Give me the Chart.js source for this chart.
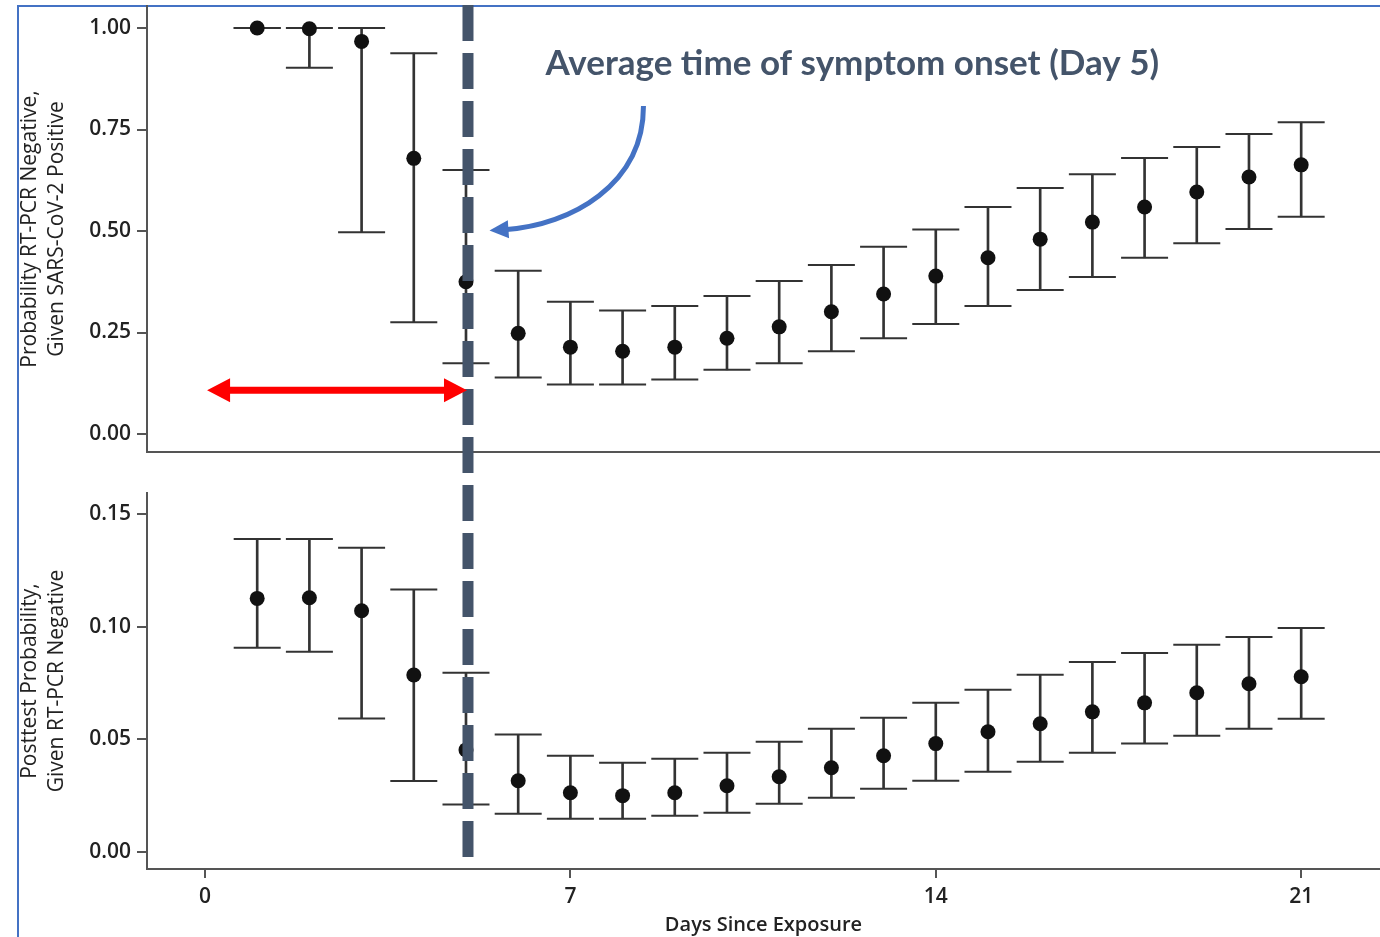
<!DOCTYPE html>
<html>
<head>
<meta charset="utf-8">
<script src="https://cdn.jsdelivr.net/npm/chart.js@4.4.1/dist/chart.umd.min.js"></script>
<style>
  html, body { margin: 0; padding: 0; background: #fff; }
  #wrap { position: relative; width: 1380px; height: 937px; overflow: hidden; }
  #frame { position: absolute; left: 17px; top: 5px; right: 0; bottom: 0;
           border-left: 2px solid #4472c4; border-top: 2px solid #4472c4; }
  canvas { position: absolute; left: 0; }
  #chart-top { top: 0; }
  #chart-bottom { top: 472px; }
</style>
</head>
<body>
<div id="wrap">
  <div id="frame"></div>
  <canvas id="chart-top" width="1380" height="472"></canvas>
  <canvas id="chart-bottom" width="1380" height="465"></canvas>
</div>
<script>
// days since exposure
const days = [1, 2, 3, 4, 5, 6, 7, 8, 9, 10, 11, 12, 13, 14, 15, 16, 17, 18, 19, 20, 21];

// top panel: probability RT-PCR negative given SARS-CoV-2 positive
const negMean = [1.00, 0.998, 0.967, 0.679, 0.375, 0.248, 0.214, 0.204, 0.214, 0.236, 0.264, 0.301, 0.345, 0.389, 0.434, 0.480, 0.522, 0.559, 0.596, 0.633, 0.663];
const negLow  = [1.00, 0.902, 0.497, 0.275, 0.174, 0.139, 0.122, 0.122, 0.134, 0.158, 0.174, 0.204, 0.236, 0.271, 0.315, 0.355, 0.387, 0.434, 0.470, 0.505, 0.535];
const negHigh = [1.00, 1.00, 1.00, 0.938, 0.650, 0.402, 0.326, 0.304, 0.315, 0.340, 0.377, 0.416, 0.461, 0.504, 0.559, 0.606, 0.640, 0.680, 0.707, 0.739, 0.768];

// bottom panel: posttest probability given RT-PCR negative
const postMean = [0.1125, 0.1128, 0.107, 0.0785, 0.0452, 0.0315, 0.0262, 0.0249, 0.0262, 0.0293, 0.0333, 0.0373, 0.0426, 0.0480, 0.0533, 0.0568, 0.0621, 0.0661, 0.0706, 0.0746, 0.0777];
const postLow  = [0.0906, 0.0888, 0.0592, 0.0314, 0.0210, 0.0169, 0.0146, 0.0146, 0.0160, 0.0173, 0.0213, 0.0240, 0.0280, 0.0315, 0.0355, 0.0400, 0.0439, 0.0480, 0.0515, 0.0546, 0.0590];
const postHigh = [0.1389, 0.1389, 0.1350, 0.1165, 0.0795, 0.0520, 0.0426, 0.0395, 0.0413, 0.0439, 0.0488, 0.0546, 0.0595, 0.0661, 0.0719, 0.0786, 0.0843, 0.0883, 0.0919, 0.0954, 0.0994];

const xTicks = [0, 7, 14, 21];
const negTicks = [0, 0.25, 0.5, 0.75, 1];
const postTicks = [0, 0.05, 0.10, 0.15];

const onsetDay = 5;
const onsetLabel = "Average time of symptom onset (Day 5)";

const FONT = "'Open Sans', 'DejaVu Sans', sans-serif";
const AXIS = '#555';
const INK = '#333';

function makeDatasets(mean, low, high) {
  return [
    {
      type: 'scatter',
      data: days.map((d, i) => ({ x: d, y: mean[i] })),
      pointRadius: 7.5,
      pointBackgroundColor: '#111',
      pointBorderWidth: 0,
      order: 0,
    },
    {
      type: 'scatter',
      data: days.map((d, i) => ({ x: d, y: low[i] })).concat(days.map((d, i) => ({ x: d, y: high[i] }))),
      pointStyle: 'line',
      pointRadius: 23.5,
      pointBorderColor: INK,
      pointBorderWidth: 2,
      order: 1,
    },
    {
      type: 'bar',
      data: days.map((d, i) => ({ x: d, y: [low[i], high[i]] })),
      backgroundColor: INK,
      barThickness: 2,
      order: 2,
    },
  ];
}

// keep the axes from reserving room for edge labels
function noEdgePadding(axis) {
  axis.paddingTop = 0;
  axis.paddingBottom = 0;
  axis.paddingLeft = 0;
  axis.paddingRight = 0;
}

function xAxis(height, extra) {
  return Object.assign({
    type: 'linear',
    min: -1.111,
    max: 22.51,
    offset: false,
    afterFit: (axis) => { axis.height = height; noEdgePadding(axis); },
    grid: { display: false, offset: false },
    border: { color: AXIS, width: 2 },
  }, extra);
}

function yAxis(min, max, ticks, title) {
  return {
    type: 'linear',
    position: 'left',
    min: min,
    max: max,
    beginAtZero: false,
    afterBuildTicks: (axis) => { axis.ticks = ticks.map((v) => ({ value: v })); },
    afterFit: (axis) => { axis.width = 147; noEdgePadding(axis); },
    ticks: { color: '#222', font: { family: FONT, size: 21, weight: 600 }, padding: 6, callback: (v) => v.toFixed(2) },
    grid: { drawOnChartArea: false, drawTicks: true, tickLength: 10, color: AXIS, lineWidth: 2 },
    border: { color: AXIS, width: 2 },
    title: { display: true, text: title, color: '#222', font: { family: FONT, size: 21, lineHeight: 1.3 }, padding: { top: 16, bottom: 0 } },
  };
}

// dashed onset line, drawn per panel so the dashes line up across the gap
const onsetLine = {
  id: 'onsetLine',
  afterDatasetsDraw(chart, args, opts) {
    const { ctx, chartArea, scales } = chart;
    const lx = scales.x.getPixelForValue(onsetDay) + 2;
    ctx.save();
    ctx.strokeStyle = '#44546a';
    ctx.lineWidth = 11;
    ctx.setLineDash([36, 12]);
    ctx.lineDashOffset = opts.offset;
    ctx.beginPath();
    ctx.moveTo(lx, opts.top === 'area' ? chartArea.top - 1 : 0);
    ctx.lineTo(lx, opts.bottom === 'canvas' ? chart.height : chartArea.bottom - 12);
    ctx.stroke();
    ctx.restore();
  },
};

// red window arrow, blue curved arrow and label on the top panel
const topNotes = {
  id: 'topNotes',
  afterDraw(chart) {
    const { ctx, scales: { x, y } } = chart;
    const px = (d) => x.getPixelForValue(d);
    const py = (v) => y.getPixelForValue(v);
    ctx.save();

    // red double arrow from exposure to onset
    const ry = py(0.108), rx1 = px(0.04), rx2 = px(onsetDay) + 1;
    ctx.fillStyle = '#ff0000';
    ctx.strokeStyle = '#ff0000';
    ctx.lineWidth = 7;
    ctx.beginPath();
    ctx.moveTo(rx1 + 20, ry);
    ctx.lineTo(rx2 - 20, ry);
    ctx.stroke();
    ctx.beginPath();
    ctx.moveTo(rx1, ry); ctx.lineTo(rx1 + 23, ry - 12); ctx.lineTo(rx1 + 23, ry + 12); ctx.closePath();
    ctx.moveTo(rx2, ry); ctx.lineTo(rx2 - 23, ry - 12); ctx.lineTo(rx2 - 23, ry + 12); ctx.closePath();
    ctx.fill();

    // blue curved pointer
    const p0 = [px(8.4), py(0.808)], p1 = [px(8.4), py(0.613)], p2 = [px(7.0), py(0.515)], p3 = [px(5.78), py(0.504)];
    const tip = [px(5.45), py(0.501)];
    ctx.strokeStyle = '#4472c4';
    ctx.fillStyle = '#4472c4';
    ctx.lineWidth = 5;
    ctx.beginPath();
    ctx.moveTo(p0[0], p0[1]);
    ctx.bezierCurveTo(p1[0], p1[1], p2[0], p2[1], p3[0], p3[1]);
    ctx.stroke();
    const ang = Math.atan2(tip[1] - p3[1], tip[0] - p3[0]);
    const hl = 19, hw = 9;
    ctx.beginPath();
    ctx.moveTo(tip[0], tip[1]);
    ctx.lineTo(tip[0] - hl * Math.cos(ang) + hw * Math.sin(ang), tip[1] - hl * Math.sin(ang) - hw * Math.cos(ang));
    ctx.lineTo(tip[0] - hl * Math.cos(ang) - hw * Math.sin(ang), tip[1] - hl * Math.sin(ang) + hw * Math.cos(ang));
    ctx.closePath();
    ctx.fill();

    // label
    ctx.fillStyle = '#44546a';
    ctx.font = "bold 35px Lato, 'Open Sans', sans-serif";
    ctx.textAlign = 'center';
    ctx.textBaseline = 'middle';
    ctx.fillText(onsetLabel, px(12.4), py(0.911));
    ctx.restore();
  },
};

const common = {
  responsive: false,
  animation: false,
  events: [],
  plugins: { legend: { display: false }, tooltip: { enabled: false } },
};

const chartTop = new Chart(document.getElementById('chart-top'), {
  type: 'scatter',
  data: { datasets: makeDatasets(negMean, negLow, negHigh) },
  plugins: [onsetLine, topNotes],
  options: {
    ...common,
    layout: { autoPadding: false, padding: { top: 6, left: 0, right: 0, bottom: 0 } },
    plugins: { ...common.plugins, onsetLine: { offset: 0, top: 'area', bottom: 'canvas' } },
    scales: {
      x: xAxis(20, { ticks: { display: false } }),
      y: yAxis(-0.0443, 1.0542, negTicks, ['Probability RT-PCR Negative,', 'Given SARS-CoV-2 Positive']),
    },
  },
});

const chartBottom = new Chart(document.getElementById('chart-bottom'), {
  type: 'scatter',
  data: { datasets: makeDatasets(postMean, postLow, postHigh) },
  plugins: [onsetLine],
  options: {
    ...common,
    layout: { autoPadding: false, padding: { top: 21, left: 0, right: 0, bottom: 0 } },
    plugins: { ...common.plugins, onsetLine: { offset: 35, top: 'canvas', bottom: 'area' } },
    scales: {
      x: xAxis(68, {
        afterBuildTicks: (axis) => { axis.ticks = xTicks.map((v) => ({ value: v })); },
        ticks: { color: '#222', font: { family: FONT, size: 21, weight: 600 }, padding: 6, maxRotation: 0 },
        grid: { display: true, offset: false, drawOnChartArea: false, drawTicks: true, tickLength: 9, color: AXIS, lineWidth: 2 },
        title: { display: true, text: 'Days Since Exposure', color: '#222', font: { family: FONT, size: 20, weight: 600 }, padding: { top: 0, bottom: 0 } },
      }),
      y: yAxis(-0.00768, 0.1593, postTicks, ['Posttest Probability,', 'Given RT-PCR Negative']),
    },
  },
});
</script>
</body>
</html>
